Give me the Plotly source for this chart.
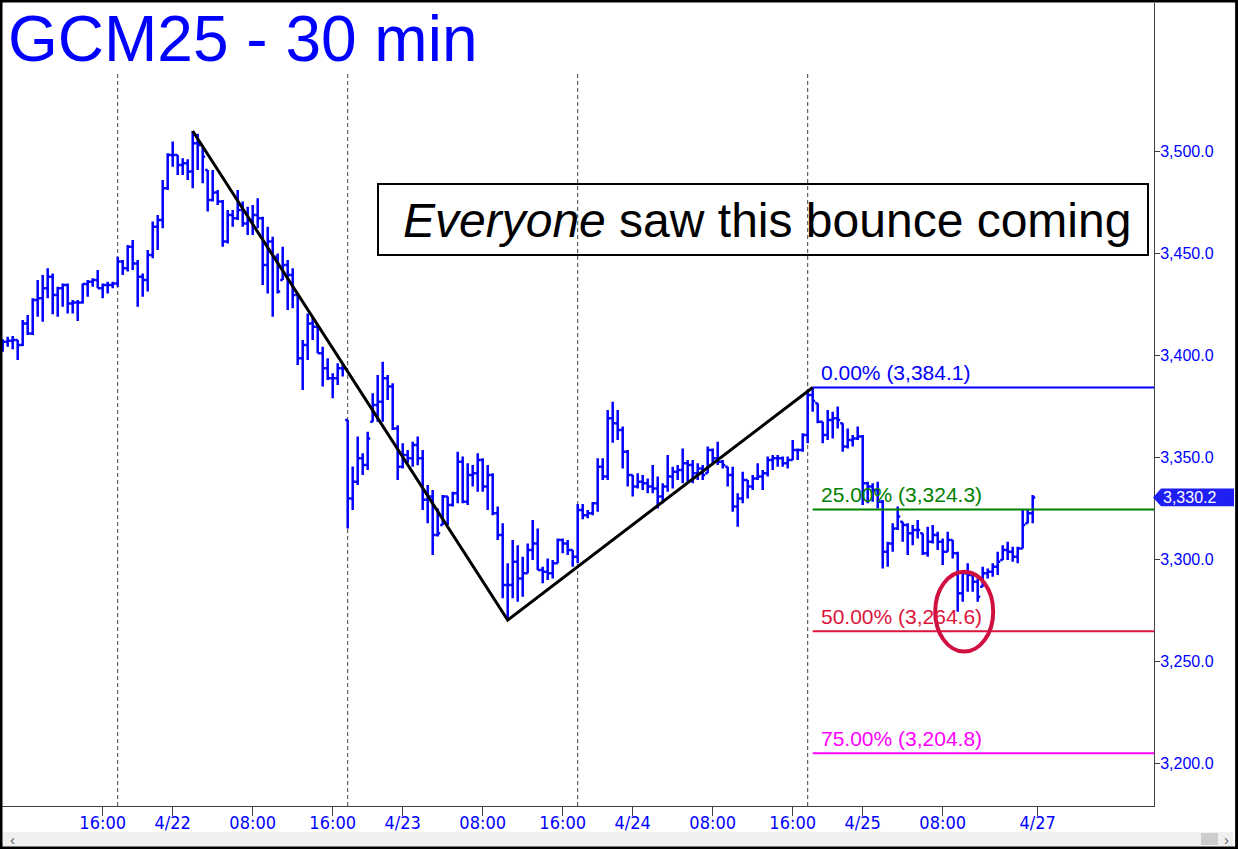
import plotly.graph_objects as go
import pandas as pd
import numpy as np

# ---------------- data (30-minute OHLC bars, GCM25) ----------------
highs = [3407.7, 3409.0, 3409.3, 3407.4, 3417.2, 3419.6, 3427.8, 3436.8, 3439.2, 3442.5,
         3440.0, 3433.5, 3435.1, 3435.1, 3427.0, 3427.0, 3435.1, 3436.8, 3437.6, 3441.7,
         3435.1, 3435.9, 3435.9,
         3448.2, 3446.6, 3453.9, 3456.4, 3446.6, 3440.0, 3451.5, 3465.4, 3468.6, 3485.8,
         3498.9, 3504.6, 3498.0, 3496.4, 3495.9, 3509.8, 3508.5, 3502.9, 3490.7, 3490.7,
         3480.9, 3476.0, 3471.1, 3471.1, 3480.9, 3475.2, 3472.7, 3473.5, 3476.8, 3467.8,
         3462.9, 3458.0, 3449.8, 3453.1, 3446.6, 3442.5, 3430.2, 3407.4, 3420.4, 3418.8,
         3413.9, 3404.1, 3398.4, 3391.0, 3395.9, 3395.1,
         3368.1, 3345.3, 3360.0, 3351.8, 3362.4, 3381.2, 3390.2, 3396.7, 3390.2, 3386.1,
         3365.6, 3356.7, 3353.4, 3357.5, 3360.0, 3353.4, 3336.3, 3333.8, 3324.8, 3331.4,
         3330.6, 3333.0, 3352.6, 3350.2, 3346.9, 3346.1, 3351.8, 3349.4, 3346.1, 3342.0,
         3325.7, 3317.5, 3297.9, 3309.3, 3306.8, 3301.1, 3307.6, 3319.1, 3315.0, 3296.2,
         3300.3, 3299.5, 3310.1, 3310.1, 3309.3, 3304.4,
         3327.0, 3327.0, 3324.0, 3328.0, 3349.4, 3349.4, 3373.0, 3377.1, 3373.0, 3364.9,
         3353.4, 3341.2, 3342.0, 3341.2, 3339.5, 3346.1, 3340.4, 3337.1, 3351.0, 3345.2,
         3346.1, 3354.2, 3348.5, 3348.5, 3346.9, 3346.1, 3355.1, 3354.2, 3357.5, 3348.5,
         3345.2, 3345.2, 3332.2, 3342.8, 3338.7, 3341.2, 3346.9, 3343.6, 3350.2, 3351.0,
         3351.0, 3350.2, 3350.2, 3358.3, 3354.2, 3361.6,
         3383.0, 3384.1, 3376.3, 3367.3, 3373.0, 3372.2, 3374.7, 3366.5, 3364.0, 3360.8,
         3364.9, 3360.8, 3337.9, 3337.1, 3337.9, 3328.9, 3308.5, 3317.5, 3325.7, 3318.3,
         3317.5, 3316.7, 3319.1, 3312.6, 3315.8, 3316.7, 3313.4, 3310.1, 3313.4, 3309.3,
         3303.6, 3294.6, 3297.9, 3293.8, 3290.5, 3296.2, 3295.4, 3297.9, 3303.6, 3306.8,
         3308.5, 3306.0, 3306.0, 3324.0, 3324.0, 3331.4]

lows = [3401.6, 3404.1, 3402.8, 3397.6, 3404.4, 3409.8, 3409.8, 3418.8, 3416.3, 3427.8,
        3420.0, 3418.8, 3423.7, 3420.4, 3420.4, 3416.7, 3425.3, 3428.6, 3433.5, 3432.7,
        3427.8, 3430.2, 3432.7,
        3433.5, 3439.2, 3440.9, 3441.7, 3423.7, 3428.6, 3431.1, 3447.4, 3451.5, 3462.1,
        3480.9, 3492.3, 3488.2, 3488.2, 3485.8, 3481.7, 3490.7, 3484.2, 3470.3, 3475.2,
        3473.5, 3453.1, 3454.7, 3462.9, 3466.2, 3462.9, 3458.8, 3458.8, 3462.1, 3434.3,
        3430.2, 3418.8, 3430.2, 3436.8, 3422.1, 3422.9, 3395.1, 3382.8, 3397.6, 3407.4,
        3400.8, 3384.5, 3387.8, 3378.8, 3385.3, 3389.4,
        3315.0, 3324.0, 3336.3, 3341.2, 3343.6, 3367.3, 3367.3, 3367.3, 3378.0, 3363.2,
        3338.7, 3344.4, 3347.0, 3345.2, 3346.0, 3324.0, 3317.5, 3302.0, 3311.0, 3316.7,
        3316.7, 3325.7, 3327.3, 3327.3, 3326.5, 3335.5, 3333.0, 3333.0, 3324.0, 3321.5,
        3309.3, 3280.7, 3270.1, 3280.7, 3279.1, 3281.5, 3293.0, 3299.5, 3294.6, 3288.1,
        3289.7, 3290.5, 3297.9, 3302.8, 3302.0, 3296.2,
        3297.9, 3319.5, 3320.0, 3321.5, 3323.2, 3338.7, 3338.7, 3357.0, 3358.3, 3344.4,
        3335.5, 3330.6, 3334.6, 3333.8, 3332.2, 3332.2, 3324.8, 3327.3, 3333.0, 3334.6,
        3338.7, 3337.1, 3337.9, 3337.1, 3338.7, 3338.7, 3342.0, 3346.9, 3346.1, 3344.4,
        3335.5, 3323.2, 3315.8, 3327.3, 3329.7, 3333.8, 3338.7, 3333.8, 3340.4, 3343.6,
        3345.2, 3345.2, 3344.4, 3348.5, 3348.5, 3352.6,
        3356.7, 3372.2, 3366.5, 3356.7, 3358.3, 3359.1, 3364.0, 3352.6, 3354.2, 3355.1,
        3358.3, 3326.5, 3327.3, 3328.1, 3324.8, 3295.4, 3296.2, 3303.6, 3314.2, 3308.5,
        3302.0, 3306.8, 3310.1, 3302.0, 3301.1, 3307.6, 3304.4, 3297.1, 3303.6, 3300.3,
        3274.2, 3279.1, 3284.0, 3284.0, 3279.1, 3286.4, 3290.5, 3291.3, 3292.2, 3299.5,
        3299.5, 3298.7, 3297.9, 3305.2, 3317.5, 3317.5]

closes = [3406.5, 3407.0, 3407.4, 3404.9, 3415.5, 3410.6, 3427.0, 3427.8, 3432.7, 3438.4,
          3429.4, 3432.7, 3434.3, 3425.3, 3425.7, 3425.7, 3434.8, 3435.9, 3436.8, 3432.7,
          3434.3, 3434.3, 3435.1,
          3445.8, 3442.5, 3453.1, 3444.9, 3438.4, 3436.8, 3449.0, 3462.9, 3466.2, 3481.7,
          3498.0, 3498.0, 3493.1, 3494.0, 3489.9, 3503.8, 3502.9, 3497.2, 3476.0, 3479.6,
          3475.2, 3455.6, 3468.6, 3467.0, 3471.1, 3464.5, 3466.2, 3468.6, 3467.0, 3444.1,
          3455.6, 3448.2, 3431.1, 3444.1, 3439.2, 3429.4, 3398.4, 3404.9, 3415.5, 3413.9,
          3400.8, 3393.5, 3388.6, 3388.6, 3393.5, 3393.5,
          3329.7, 3337.9, 3349.4, 3346.1, 3359.1, 3375.5, 3377.1, 3388.6, 3384.5, 3364.0,
          3345.2, 3351.0, 3349.4, 3355.9, 3349.4, 3329.0, 3330.6, 3311.8, 3312.6, 3330.6,
          3326.5, 3332.2, 3347.7, 3328.1, 3341.2, 3342.0, 3348.5, 3335.5, 3341.2, 3322.4,
          3311.8, 3287.2, 3287.2, 3298.7, 3290.5, 3293.0, 3304.4, 3307.6, 3294.6, 3293.8,
          3293.0, 3297.9, 3309.3, 3307.6, 3304.4, 3301.1,
          3324.0, 3321.5, 3322.4, 3327.3, 3345.2, 3340.4, 3369.0, 3366.5, 3363.2, 3352.6,
          3341.2, 3335.5, 3337.9, 3337.1, 3335.5, 3334.6, 3330.6, 3335.5, 3340.4, 3342.8,
          3343.6, 3346.9, 3346.1, 3342.0, 3344.4, 3341.2, 3353.4, 3349.4, 3347.7, 3346.1,
          3341.2, 3325.7, 3329.7, 3338.7, 3335.5, 3339.5, 3340.4, 3342.0, 3348.5, 3349.4,
          3349.4, 3346.9, 3348.5, 3353.4, 3353.4, 3360.8,
          3380.4, 3377.5, 3367.3, 3360.8, 3368.1, 3369.0, 3368.1, 3355.1, 3358.3, 3359.1,
          3360.0, 3337.1, 3335.5, 3333.8, 3328.1, 3303.6, 3307.6, 3315.0, 3320.8, 3316.7,
          3312.6, 3314.2, 3314.2, 3302.8, 3308.5, 3311.8, 3308.5, 3303.6, 3309.3, 3302.8,
          3283.2, 3293.0, 3292.2, 3288.9, 3281.5, 3293.0, 3293.8, 3296.2, 3298.7, 3304.4,
          3303.6, 3301.1, 3305.2, 3316.7, 3322.4, 3330.2]

first_open = 3404.0

# Session layout (bar end times, ET): partial 4/21 day session, then 4 Globex sessions
pre_session_start = "2025-04-21 06:00"
pre_session_bars = 23
session_starts = ["2025-04-21 18:30", "2025-04-22 18:30", "2025-04-23 18:30", "2025-04-24 18:30"]
bars_per_session = 46
next_session_start = "2025-04-27 18:30"

tick_times = ["2025-04-21 16:00", "2025-04-22 00:00", "2025-04-22 08:00", "2025-04-22 16:00",
              "2025-04-23 00:00", "2025-04-23 08:00", "2025-04-23 16:00", "2025-04-24 00:00",
              "2025-04-24 08:00", "2025-04-24 16:00", "2025-04-25 00:00", "2025-04-25 08:00",
              "2025-04-27 18:30"]
tick_labels = ["16:00", "4/22", "08:00", "16:00", "4/23", "08:00", "16:00", "4/24",
               "08:00", "16:00", "4/25", "08:00", "4/27"]

fib_pcts = ["0.00%", "25.00%", "50.00%", "75.00%"]
fib_levels = [3384.1, 3324.3, 3264.6, 3204.8]
fib_colors = ["#0000FF", "#008000", "#DC143C", "#FF00FF"]

y_ticks = [3200, 3250, 3300, 3350, 3400, 3450, 3500]

title_text = "GCM25 - 30 min"
note_text = "<i>Everyone</i> saw this bounce coming"

# ---------------- derived series ----------------
n = len(closes)
opens = []
prev = first_open
for h, l, c in zip(highs, lows, closes):
    opens.append(min(max(prev, l), h))
    prev = c

times = list(pd.date_range(pre_session_start, periods=pre_session_bars, freq="30min"))
for s in session_starts:
    times += list(pd.date_range(s, periods=bars_per_session, freq="30min"))
times.append(pd.Timestamp(next_session_start))
time_index = {t: k for k, t in enumerate(times)}
tick_vals = [time_index[pd.Timestamp(t)] for t in tick_times]

x = np.arange(n)
session_idx = [pre_session_bars + j * bars_per_session for j in range(len(session_starts))]

H = np.array(highs)
L = np.array(lows)
peak = int(np.argmax(H[:60]))
trough = peak + int(np.argmin(L[peak:130]))
swing = trough + int(np.argmax(H[trough:]))
zz_x = [peak, trough, swing]
zz_y = [highs[peak], lows[trough], highs[swing]]

# ---------------- geometry helpers (pixel -> paper) ----------------
W, HGT = 1238, 849
PL, PR, PT, PB = 2, 1154, 3, 806
def fx(px):
    return (px - PL) / (PR - PL)
def fy(py):
    return (PB - py) / (PB - PT)

px_per_bar = 5.0
x0_px = 2.7
x_range = [(PL - x0_px) / px_per_bar, (PR - x0_px) / px_per_bar]
y_range = [3178.92, 3572.55]

BLUE = "#0000FF"
FONT = "Liberation Sans, Arial, sans-serif"
NARROW = "Liberation Sans Narrow, Arial Narrow, DejaVu Sans Condensed, Liberation Sans, sans-serif"

fig = go.Figure()
fig.add_trace(go.Ohlc(x=x, open=opens, high=highs, low=lows, close=closes,
                      increasing=dict(line=dict(color=BLUE, width=2.5)),
                      decreasing=dict(line=dict(color=BLUE, width=2.5)),
                      tickwidth=0.5, hoverinfo="skip", showlegend=False))

# zig-zag trendline
fig.add_trace(go.Scatter(x=zz_x, y=zz_y, mode="lines",
                         line=dict(color="black", width=3), hoverinfo="skip", showlegend=False))

# fibonacci lines
for lvl, col in zip(fib_levels, fib_colors):
    fig.add_trace(go.Scatter(x=[swing, x_range[1]], y=[lvl, lvl], mode="lines",
                             line=dict(color=col, width=2), hoverinfo="skip", showlegend=False))

shapes = []
for k in session_idx:
    shapes.append(dict(type="line", xref="x", yref="paper", x0=k, x1=k, y0=0, y1=fy(73),
                       line=dict(color="#404040", width=1, dash="4px,3px"), layer="below"))

# text box
shapes.append(dict(type="rect", xref="paper", yref="paper", x0=fx(378), x1=fx(1148),
                   y0=fy(255), y1=fy(184), line=dict(color="black", width=2)))

# ellipse around the low of the last session
last_low_k = swing + int(np.argmin(L[swing:]))
cx = last_low_k + 1.3
cy = lows[last_low_k]
shapes.append(dict(type="circle", xref="x", yref="y", x0=cx - 5.8, x1=cx + 5.8,
                   y0=cy - 19.6, y1=cy + 19.6, line=dict(color="#D0103F", width=4)))

# current price tag
c = closes[-1]
dy = 4.4
shapes.append(dict(type="path", xref="paper", yref="y",
                   path=f"M {fx(1153)},{c} L {fx(1161)},{c+dy} L {fx(1234)},{c+dy} L {fx(1234)},{c-dy} L {fx(1161)},{c-dy} Z",
                   fillcolor="#1E1EF5", line=dict(width=0)))

# scrollbar
shapes.append(dict(type="rect", xref="paper", yref="paper", x0=fx(2), x1=fx(1233),
                   y0=fy(846), y1=fy(832), fillcolor="#F0F0F0", line=dict(width=0)))
shapes.append(dict(type="rect", xref="paper", yref="paper", x0=fx(1201), x1=fx(1218),
                   y0=fy(845), y1=fy(833), fillcolor="#CDCDCD", line=dict(width=0)))
# right-hand panel edge
shapes.append(dict(type="line", xref="paper", yref="paper", x0=fx(1236), x1=fx(1236),
                   y0=fy(849), y1=fy(0), line=dict(color="#202020", width=2)))
# outer frame
shapes.append(dict(type="rect", xref="paper", yref="paper", x0=fx(1), x1=fx(1237.5),
                   y0=fy(848), y1=fy(1), line=dict(color="black", width=3)))

annotations = []
annotations.append(dict(xref="paper", yref="paper", x=fx(6), y=fy(39), xanchor="left", yanchor="middle",
                        text=title_text, showarrow=False,
                        font=dict(family=FONT, size=64, color=BLUE)))
annotations.append(dict(xref="paper", yref="paper", x=fx(401), y=fy(221), xanchor="left", yanchor="middle",
                        text=note_text, showarrow=False,
                        font=dict(family=FONT, size=48, color="black")))
for pct, lvl, col in zip(fib_pcts, fib_levels, fib_colors):
    annotations.append(dict(xref="x", yref="y", x=swing, y=lvl, xanchor="left", yanchor="bottom",
                            xshift=6, yshift=1, text=f"{pct} ({lvl:,.1f})", showarrow=False,
                            font=dict(family=FONT, size=21, color=col)))
annotations.append(dict(xref="paper", yref="y", x=fx(1161), y=c, xanchor="left", yanchor="middle",
                        text=f"{c:,.1f}", showarrow=False,
                        font=dict(family=FONT, size=16, color="white")))
annotations.append(dict(xref="paper", yref="paper", x=fx(12), y=fy(839), xanchor="center", yanchor="middle",
                        text="‹", showarrow=False, font=dict(family=FONT, size=15, color="#606060")))
annotations.append(dict(xref="paper", yref="paper", x=fx(1226), y=fy(839), xanchor="center", yanchor="middle",
                        text="›", showarrow=False, font=dict(family=FONT, size=15, color="#606060")))

fig.update_layout(
    width=W, height=HGT, autosize=False,
    margin=dict(l=PL, r=W - PR, t=PT, b=HGT - PB, pad=0),
    paper_bgcolor="white", plot_bgcolor="white",
    shapes=shapes, annotations=annotations, showlegend=False,
    xaxis=dict(range=x_range, tickmode="array", tickvals=tick_vals, ticktext=tick_labels,
               ticks="outside", ticklen=9, tickcolor="#404040", showline=True, linecolor="#404040",
               linewidth=1, showgrid=False, zeroline=False, automargin=False,
               ticklabelstandoff=-9,
               rangeslider=dict(visible=False),
               tickfont=dict(family=NARROW, size=18, color=BLUE)),
    yaxis=dict(range=y_range, side="right", tickmode="array", tickvals=y_ticks, tickformat=",.1f",
               ticks="outside", ticklen=5, tickcolor="#404040", showline=True, linecolor="#404040",
               linewidth=1, showgrid=False, zeroline=False, automargin=False,
               ticklabelstandoff=-3,
               tickfont=dict(family=FONT, size=16, color=BLUE)),
)

fig.write_html("out.html", config={"displayModeBar": False},
               post_script="document.body.style.margin='0';document.body.style.overflow='hidden';")
